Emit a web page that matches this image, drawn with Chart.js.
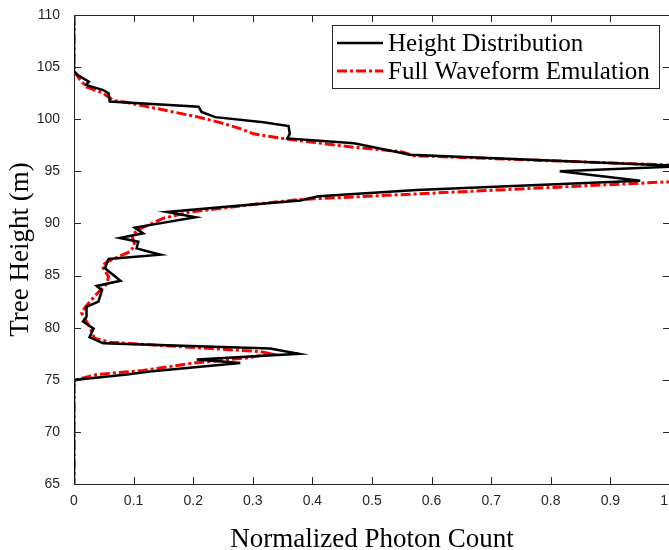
<!DOCTYPE html>
<html>
<head>
<meta charset="utf-8">
<script src="https://cdn.jsdelivr.net/npm/chart.js@4/dist/chart.umd.min.js"></script>
<style>
  html, body { margin: 0; padding: 0; overflow: hidden; background: #fff; }
  #wrap { width: 690px; height: 550px; }
</style>
</head>
<body>
<div id="wrap"><canvas id="myChart"></canvas></div>
<script>
// Height distribution (black): tree height (m) and normalized photon count
const distHeights = [110, 104.6, 104.2, 103.6, 103.3, 102.8, 102.5, 101.7, 101.2, 100.7, 100.2, 99.7, 99.35, 98.6, 98.15, 97.7, 96.6, 95.5, 95.0, 94.1, 93.2, 92.6, 92.2, 91.6, 91.1, 90.6, 89.6, 89.05, 88.6, 88.25, 87.6, 87.0, 86.6, 85.7, 84.5, 84.0, 83.6, 82.5, 82.0, 81.05, 80.6, 79.9, 79.1, 78.5, 78.0, 77.5, 76.95, 76.6, 75.8, 75.5, 75.0, 74.8, 65];
const distCounts = [0, 0, 0.007, 0.025, 0.02, 0.049, 0.058, 0.06, 0.209, 0.214, 0.237, 0.318, 0.36, 0.362, 0.358, 0.47, 0.564, 1.02, 0.815, 0.95, 0.575, 0.41, 0.38, 0.255, 0.156, 0.204, 0.102, 0.116, 0.077, 0.108, 0.105, 0.145, 0.058, 0.052, 0.078, 0.038, 0.047, 0.041, 0.021, 0.021, 0.015, 0.033, 0.026, 0.049, 0.329, 0.377, 0.206, 0.279, 0.127, 0.089, 0.004, 0, 0];

// Full waveform emulation (red)
const waveHeights = [110, 104.6, 103.8, 103.1, 102.5, 101.8, 101.6, 100.2, 99.7, 99.1, 98.6, 98.1, 97.3, 96.9, 96.5, 95.6, 95.0, 94.0, 92.3, 91.9, 91.1, 90.5, 89.5, 88.9, 87.9, 87.3, 86.3, 85.9, 84.9, 84.2, 83.1, 81.9, 81.4, 80.1, 79.0, 78.6, 77.7, 77.5, 77.1, 76.6, 75.9, 75.5, 75.0, 74.5, 65];
const waveCounts = [0, 0, 0.01, 0.021, 0.049, 0.066, 0.089, 0.209, 0.244, 0.279, 0.301, 0.357, 0.47, 0.548, 0.57, 1.0, 1.08, 1.0, 0.38, 0.313, 0.195, 0.15, 0.111, 0.097, 0.102, 0.094, 0.055, 0.047, 0.058, 0.055, 0.036, 0.018, 0.013, 0.026, 0.034, 0.06, 0.313, 0.329, 0.29, 0.2, 0.116, 0.038, 0.004, 0, 0];

const seriesNames = ['Height Distribution', 'Full Waveform Emulation'];
const axisColor = '#262626';

function toPoints(xs, ys) {
    return xs.map((x, i) => ({ x: x, y: ys[i] }));
}

// inward ticks on all four sides + top/right frame (MATLAB box style)
const boxPlugin = {
    id: 'box',
    afterDatasetsDraw(chart) {
        const { ctx, chartArea: a, scales } = chart;
        ctx.save();
        ctx.strokeStyle = axisColor;
        ctx.lineWidth = 1;
        ctx.beginPath();
        ctx.moveTo(a.left, a.top + 0.5);
        ctx.lineTo(a.right, a.top + 0.5);
        ctx.moveTo(a.right - 0.5, a.top);
        ctx.lineTo(a.right - 0.5, a.bottom);
        const len = 7;
        scales.x.ticks.forEach(t => {
            const px = Math.round(scales.x.getPixelForValue(t.value)) + 0.5;
            ctx.moveTo(px, a.bottom);
            ctx.lineTo(px, a.bottom - len);
            ctx.moveTo(px, a.top);
            ctx.lineTo(px, a.top + len);
        });
        scales.y.ticks.forEach(t => {
            const py = Math.round(scales.y.getPixelForValue(t.value)) + 0.5;
            ctx.moveTo(a.left, py);
            ctx.lineTo(a.left + len, py);
            ctx.moveTo(a.right, py);
            ctx.lineTo(a.right - len, py);
        });
        ctx.stroke();
        ctx.restore();
    }
};

// legend box inside the top right of the plot
const legendPlugin = {
    id: 'insideLegend',
    afterDraw(chart) {
        const ctx = chart.ctx;
        const x0 = 332, y0 = 25, w = 327, h = 63;
        ctx.save();
        ctx.fillStyle = '#fff';
        ctx.fillRect(x0, y0, w, h);
        ctx.strokeStyle = axisColor;
        ctx.lineWidth = 1;
        ctx.strokeRect(x0 + 0.5, y0 + 0.5, w, h);
        const rows = [43, 71];
        chart.data.datasets.forEach((ds, i) => {
            ctx.beginPath();
            ctx.strokeStyle = ds.borderColor;
            ctx.lineWidth = ds.borderWidth;
            ctx.setLineDash(ds.borderDash || []);
            ctx.moveTo(337, rows[i]);
            ctx.lineTo(383, rows[i]);
            ctx.stroke();
            ctx.setLineDash([]);
            ctx.fillStyle = '#000';
            ctx.font = '25px "Liberation Serif", "Times New Roman", serif';
            ctx.textBaseline = 'middle';
            ctx.fillText(ds.label, 388, rows[i] + 1);
        });
        ctx.restore();
    }
};

new Chart(document.getElementById('myChart'), {
    type: 'scatter',
    data: {
        datasets: [{
            label: seriesNames[0],
            data: toPoints(distCounts, distHeights),
            showLine: true,
            borderColor: '#000000',
            borderWidth: 2.5,
            pointRadius: 0,
            tension: 0
        }, {
            label: seriesNames[1],
            data: toPoints(waveCounts, waveHeights),
            showLine: true,
            borderColor: '#ff0000',
            borderWidth: 3,
            borderDash: [10, 3, 3, 3],
            pointRadius: 0,
            tension: 0
        }]
    },
    options: {
        responsive: true,
        maintainAspectRatio: false,
        animation: false,
        layout: { padding: { top: 15, right: 20, left: 0, bottom: 0 } },
        plugins: {
            legend: { display: false },
            tooltip: { enabled: false }
        },
        scales: {
            x: {
                type: 'linear',
                min: 0,
                max: 1,
                ticks: {
                    stepSize: 0.1,
                    color: axisColor,
                    font: { family: '"Liberation Sans", Arial, sans-serif', size: 14 },
                    padding: 1
                },
                grid: { display: false },
                border: { display: true, color: axisColor, width: 1 },
                title: {
                    display: true,
                    text: 'Normalized Photon Count',
                    color: '#000',
                    font: { family: '"Liberation Serif", "Times New Roman", serif', size: 27 },
                    padding: { top: 16, bottom: -6 }
                },
                afterFit(scale) { scale.height = 66; }
            },
            y: {
                type: 'linear',
                min: 65,
                max: 110,
                ticks: {
                    stepSize: 5,
                    color: axisColor,
                    font: { family: '"Liberation Sans", Arial, sans-serif', size: 14 },
                    padding: 6
                },
                grid: { display: false },
                border: { display: true, color: axisColor, width: 1 },
                title: {
                    display: true,
                    text: 'Tree Height (m)',
                    color: '#000',
                    font: { family: '"Liberation Serif", "Times New Roman", serif', size: 27 },
                    padding: { bottom: 2, top: 5 }
                },
                afterFit(scale) { scale.width = 74; }
            }
        }
    },
    plugins: [boxPlugin, legendPlugin]
});
</script>
</body>
</html>
